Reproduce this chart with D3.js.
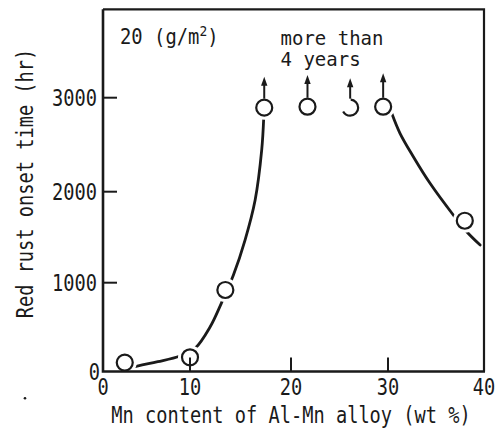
<!DOCTYPE html>
<html>
<head>
<meta charset="utf-8">
<script src="https://cdn.jsdelivr.net/npm/d3@7"></script>
<style>
  body { margin: 0; background: #fff; }
  svg text { font-family: "DejaVu Sans Mono", monospace; fill: #1a1a1a; }
</style>
</head>
<body>
<div id="chart"></div>
<script>
// measured points (Mn wt %, red rust onset hr)
const mnContent   = [2.5, 10.0, 13.5, 17.35, 21.7, 26.1, 29.5, 38.0];
const onsetHours  = [100, 160, 918, 2894, 2904, 2894, 2904, 1681];
// points that did not rust within the test (arrow = "more than 4 years")
const beyondTest  = [false, false, false, true, true, true, true, false];
const arrowTipHr  = [null, null, null, 3223, 3241, 3206, 3259, null];
const brokenMark  = [false, false, false, false, false, true, false, false];

// hand-drawn trend curves
const riseCurve = [[3.7, 56], [6.3, 110], [8.85, 175], [10.5, 261], [12.0, 504], [13.1, 768],
                   [14.3, 1085], [15.45, 1469], [16.45, 1909], [17.1, 2444], [17.3, 2790]];
const fallCurve = [[30.39, 2834], [31.25, 2621], [32.64, 2372], [34.38, 2089], [36.8, 1744],
                   [38.2, 1560], [39.6, 1414]];

const xTicks = [10, 20, 30];
const yTicks = [1000, 2000, 3000];
const xTickLabels = [0, 10, 20, 30, 40];
const yTickLabels = [0, 1000, 2000, 3000];

const width = 502, height = 428;

// the scan is not quite uniform, so the scales follow the printed tick marks
let x = d3.scaleLinear().domain([0, 10, 20, 30, 40]).range([103, 190, 291, 388, 484]);
let y = d3.scaleLinear().domain([0, 1000, 2000, 3000, 3940]).range([371.5, 282.7, 191.7, 97.7, 9.3]);

let svg = d3.select("#chart").append("svg")
    .attr("width", width)
    .attr("height", height);

const ink = "#1a1a1a";

// text helper: the original lettering is narrower than any installed mono font
function label(str, px, py, size, sx, anchor) {
    return svg.append("text")
        .attr("transform", `translate(${px},${py}) scale(${sx},1)`)
        .attr("font-size", size)
        .attr("text-anchor", anchor || "start")
        .text(str);
}

// curves
let line = d3.line().x(d => x(d[0])).y(d => y(d[1])).curve(d3.curveCatmullRom);
[riseCurve, fallCurve].forEach(c => {
    svg.append("path")
        .datum(c)
        .attr("d", line)
        .attr("fill", "none")
        .attr("stroke", ink)
        .attr("stroke-width", 2.8)
        .attr("stroke-linecap", "round");
});

let pts = mnContent.map((m, i) => ({ m: m, h: onsetHours[i], up: beyondTest[i], tip: arrowTipHr[i], broken: brokenMark[i] }));

// white halo so the curve stops a little short of each circle
svg.append("g").selectAll("circle")
    .data(pts)
    .join("circle")
    .attr("cx", d => x(d.m))
    .attr("cy", d => y(d.h))
    .attr("r", 12)
    .attr("fill", "#fff");

// frame and axes
let frameTop = y(3940);
svg.append("path")
    .attr("d", `M${x(0)},${frameTop}H${x(40)}V${y(0)}`)
    .attr("fill", "none")
    .attr("stroke", ink)
    .attr("stroke-width", 2.2);
svg.append("path")
    .attr("d", `M${x(0)},${frameTop}V${y(0)}H${x(40) + 1}`)
    .attr("fill", "none")
    .attr("stroke", ink)
    .attr("stroke-width", 2.6);

// inward ticks
svg.append("g").selectAll("line")
    .data(xTicks)
    .join("line")
    .attr("x1", d => x(d)).attr("x2", d => x(d))
    .attr("y1", y(0)).attr("y2", y(0) - 14)
    .attr("stroke", ink).attr("stroke-width", 2);
svg.append("g").selectAll("line")
    .data(yTicks)
    .join("line")
    .attr("x1", x(0)).attr("x2", x(0) + 14)
    .attr("y1", d => y(d)).attr("y2", d => y(d))
    .attr("stroke", ink).attr("stroke-width", 2);

// markers
svg.append("g").selectAll("circle")
    .data(pts)
    .join("circle")
    .attr("cx", d => x(d.m))
    .attr("cy", d => y(d.h))
    .attr("r", 8)
    .attr("fill", "none")
    .attr("stroke", ink)
    .attr("stroke-width", 2.2)
    .attr("stroke-dasharray", d => d.broken ? "21 17 12.3 0" : null);

// arrows for specimens still without red rust
let ups = pts.filter(d => d.up);
svg.append("g").selectAll("line")
    .data(ups)
    .join("line")
    .attr("x1", d => x(d.m)).attr("x2", d => x(d.m))
    .attr("y1", d => y(d.h) - 9).attr("y2", d => y(d.tip) + 6)
    .attr("stroke", ink).attr("stroke-width", 2);
svg.append("g").selectAll("path")
    .data(ups)
    .join("path")
    .attr("d", d => {
        let cx = x(d.m), ty = y(d.tip);
        return `M${cx},${ty}L${cx - 3.2},${ty + 9}L${cx + 3.2},${ty + 9}Z`;
    })
    .attr("fill", ink);

// tick labels
xTickLabels.forEach(v => label(v, x(v), 395, 22.5, 0.83, "middle"));
yTickLabels.forEach(v => label(v, v === 0 ? 100 : 97, y(v) + 8.3, 22.5, 0.83, "end"));

// axis titles
label("Mn content of Al-Mn alloy (wt %)", 291, 422.5, 22.5, 0.83, "middle");
svg.append("text")
    .attr("transform", "translate(33,183.5) rotate(-90) scale(0.83,1)")
    .attr("font-size", 22.5)
    .attr("text-anchor", "middle")
    .text("Red rust onset time (hr)");

// annotations
let amount = label("20 (g/m", 120, 44, 20.5, 0.92);
amount.append("tspan").attr("font-size", 14).attr("dy", -8).text("2");
amount.append("tspan").attr("dy", 8).text(")");
label("more than", 280.5, 45, 19, 1.0);
label("4 years", 280.5, 65.5, 19, 1.0);

// stray speck on the scan
svg.append("circle").attr("cx", 25).attr("cy", 398.3).attr("r", 1.3).attr("fill", ink);
</script>
</body>
</html>
